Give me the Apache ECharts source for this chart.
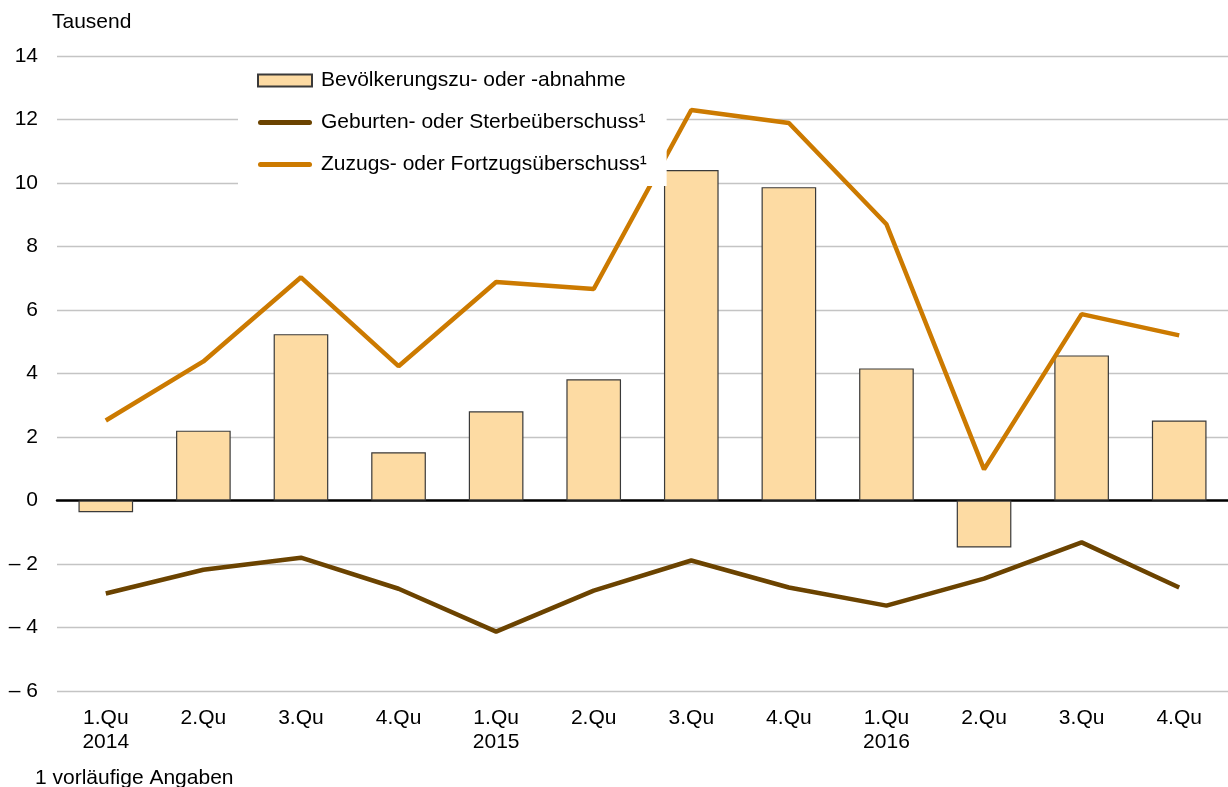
<!DOCTYPE html>
<html><head><meta charset="utf-8">
<script src="https://cdn.jsdelivr.net/npm/echarts@6/dist/echarts.min.js"></script>
<style>html,body{margin:0;padding:0;background:#fff}#c{width:1228px;height:787px}</style>
</head><body><div id="c"></div>
<script>
const categories = ['1.Qu\n2014','2.Qu','3.Qu','4.Qu','1.Qu\n2015','2.Qu','3.Qu','4.Qu','1.Qu\n2016','2.Qu','3.Qu','4.Qu'];
const bevoelkerung = [-0.37, 2.2, 5.24, 1.52, 2.81, 3.82, 10.41, 9.87, 4.16, -1.48, 4.57, 2.52];
const geburten = [-2.93, -2.18, -1.8, -2.78, -4.13, -2.84, -1.89, -2.74, -3.31, -2.46, -1.32, -2.74];
const zuzug = [2.52, 4.38, 7.03, 4.23, 6.88, 6.66, 12.3, 11.89, 8.7, 0.98, 5.87, 5.2];
const yTicks = {min: -6, max: 14, interval: 2};
const names = ['Bevölkerungszu- oder -abnahme', 'Geburten- oder Sterbeüberschuss¹', 'Zuzugs- oder Fortzugsüberschuss¹'];

const font = 'Liberation Sans, Arial, sans-serif';
const lineIcon = 'path://M2.5,0 L51.5,0 A2.5,2.5 0 0 1 51.5,5 L2.5,5 A2.5,2.5 0 0 1 2.5,0 Z';
const chart = echarts.init(document.getElementById('c'));
chart.setOption({
  animation: false,
  textStyle: {fontFamily: font},
  grid: {left: 57, right: 0, top: 56, bottom: 96, containLabel: false},
  graphic: [
    {type: 'text', left: 52, top: 12, style: {text: 'Tausend', fontSize: 21, fontFamily: font, fill: '#000'}},
    {type: 'text', left: 35, top: 768, style: {text: '1 vorläufige Angaben', fontSize: 21, fontFamily: font, fill: '#000'}}
  ],
  legend: {
    orient: 'vertical', left: 238, top: 60,
    backgroundColor: '#fff',
    padding: [10, 20, 11, 19],
    itemWidth: 54, itemHeight: 12, itemGap: 21,
    textStyle: {fontSize: 21, color: '#000', fontFamily: font, padding: [0, 0, 0, 4]},
    data: [
      {name: names[0], icon: 'rect'},
      {name: names[1], icon: lineIcon, itemStyle: {color: '#6B4300', borderWidth: 0}},
      {name: names[2], icon: lineIcon, itemStyle: {color: '#CC7A00', borderWidth: 0}}
    ]
  },
  xAxis: {
    type: 'category', data: categories,
    axisLine: {onZero: true, lineStyle: {color: '#000', width: 2.5}},
    axisTick: {show: false},
    axisLabel: {fontSize: 21, color: '#000', margin: 15, lineHeight: 24, fontFamily: font, interval: 0}
  },
  yAxis: {
    type: 'value', min: yTicks.min, max: yTicks.max, interval: yTicks.interval,
    axisLine: {show: false}, axisTick: {show: false},
    axisLabel: {fontSize: 21, color: '#000', margin: 19, fontFamily: font,
      formatter: v => v < 0 ? '\u2013 ' + Math.abs(v) : String(v)},
    splitLine: {lineStyle: {color: '#c4c4c4', width: 1.3}}
  },
  series: [
    {name: names[0], type: 'bar', data: bevoelkerung, barWidth: '56%',
      itemStyle: {color: '#FDDBA3', borderColor: '#3a3a3a', borderWidth: 1.2}, z: 2},
    {name: names[1], type: 'line', data: geburten, symbol: 'none',
      lineStyle: {color: '#6B4300', width: 4.5}, itemStyle: {color: '#6B4300'}, z: 3},
    {name: names[2], type: 'line', data: zuzug, symbol: 'none',
      lineStyle: {color: '#CC7A00', width: 4.5}, itemStyle: {color: '#CC7A00'}, z: 3}
  ]
});
</script></body></html>
